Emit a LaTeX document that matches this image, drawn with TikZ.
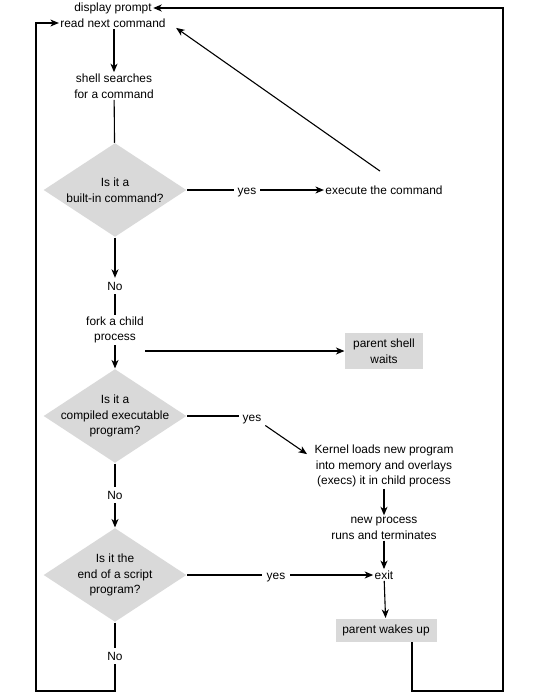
\documentclass[tikz,border=0pt]{standalone}
\usepackage{fontspec}
\setmainfont{Liberation Sans}
\usepackage{tikz}
\usetikzlibrary{positioning,shapes.geometric,arrows.meta}
\definecolor{boxgrey}{gray}{0.85}
\tikzstyle{txt} = [align=center, inner sep=1pt, font=\fontsize{11.9}{15.8}\selectfont]
\tikzstyle{answer} = [txt, inner sep=3.5pt]
\tikzstyle{test} = [diamond, fill=boxgrey, minimum width=143pt, minimum height=94pt, inner sep=0pt]
\tikzstyle{greybox} = [txt, fill=boxgrey, inner sep=0pt]
\tikzstyle{arr} = [-{Stealth[length=8.5pt,width=7pt,inset=2.5pt]}]

\begin{document}
\begin{tikzpicture}[x=1pt, y=-1pt, line width=1.1pt]
			\useasboundingbox (0,0) rectangle (556,696);
			% left column
			\node[txt] (disp) at (113, 8) {display prompt};
			\node[txt] (readcmd) at (113, 23) {read next command};
			\node[txt] (search) at (114, 86) {shell searches\\for a command};
			\node[test] (test1) at (115, 190) {};
			\node[txt] (q1) at (test1) {Is it a\\built-in command?};
			\node[answer] (no1) at (115, 286) {No};
			\node[txt] (fork) at (115, 330) {fork a child\\process};
			\node[test] (test2) at (115, 416) {};
			\node[txt] (q2) at (test2) {Is it a\\compiled executable\\program?};
			\node[answer] (no2) at (115, 495) {No};
			\node[test] (test3) at (115, 575) {};
			\node[txt] (q3) at (test3) {Is it the\\end of a script\\program?};
			\node[answer] (no3) at (115, 656) {No};
			% right column
			\node[answer] (yes1) at (247, 193) {yes};
			\node[txt] (exec) at (384, 190) {execute the command};
			\node[greybox, minimum width=78pt, minimum height=36pt] (waits) at (384, 351) {parent shell\\waits};
			\node[answer] (yes2) at (252, 420) {yes};
			\node[txt] (kernel) at (384, 466) {Kernel loads new program\\into memory and overlays\\(execs) it in child process};
			\node[txt] (newproc) at (384, 528) {new process\\runs and terminates};
			\node[answer, inner sep=4.5pt] (yes3) at (276, 578) {yes};
			\node[txt] (exitn) at (384, 575) {exit};
			\node[greybox, minimum width=101pt, minimum height=23pt] (wakes) at (386, 630) {parent wakes up};
			\coordinate (br) at (503, 691);
			\coordinate (bl) at (36, 691);
			% connectors
			\draw[arr] (readcmd.south -| search) -- (search);
			\draw (search) -- (test1);
			\draw (test1) -- (test1 -| yes1.west);
			\draw[arr] (yes1.east |- exec) -- (exec);
			\draw[arr] ([shift={(-4pt,13pt)}]exec.north) -- ([shift={(9pt,1pt)}]readcmd.south east);
			\draw[arr] (test1) -- (no1);
			\draw (no1) -- (fork);
			\draw[arr] (fork) -- (test2);
			\draw[arr] (fork.east |- waits) -- (waits);
			\draw (test2) -- (test2 -| yes2.west);
			\draw[arr] ([yshift=3pt]yes2.south east) -- ([shift={(-6pt,-11pt)}]kernel.north west);
			\draw[arr] (kernel) -- (newproc);
			\draw[arr] (newproc) -- (exitn);
			\draw (test2) -- (no2);
			\draw[arr] (no2) -- (test3);
			\draw (test3) -- (test3 -| yes3.west);
			\draw[arr] (yes3.east |- test3) -- (exitn);
			\draw[arr] (exitn) -- (wakes);
			\draw (test3) -- (no3);
			\draw[arr] ([xshift=26pt]wakes.south) |- (br) |- (disp);
			\draw[arr] (no3) |- (bl) |- (readcmd);
		\end{tikzpicture}
\end{document}
